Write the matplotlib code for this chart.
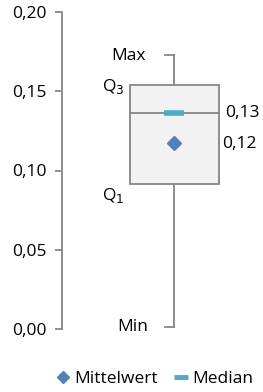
import matplotlib
matplotlib.use("Agg")
import matplotlib.pyplot as plt
from matplotlib.lines import Line2D
from matplotlib.patches import Rectangle

plt.rcParams['font.family'] = ['Open Sans', 'DejaVu Sans']

# box statistics
v_min = 0.0015
q1 = 0.0915
median = 0.136
q3 = 0.154
v_max = 0.173
mean = 0.1176
median_label = "0,13"
mean_label = "0,12"
yticks = [0.0, 0.05, 0.10, 0.15, 0.20]
ytick_labels = ["0,00", "0,05", "0,10", "0,15", "0,20"]

gray = "#868686"
fig = plt.figure(figsize=(2.63, 3.92), dpi=100)
ax = fig.add_axes([62 / 263, 63 / 392, 200 / 263, 317 / 392])

cx, hw = 0.56, 0.2225
ax.add_patch(Rectangle((cx - hw, q1), 2 * hw, q3 - q1, facecolor="#f2f2f2",
                       edgecolor=gray, lw=1.3, zorder=2))
ax.plot([cx, cx], [q3, v_max], color=gray, lw=1.3, zorder=1)
ax.plot([cx, cx], [v_min, q1], color=gray, lw=1.3, zorder=1)
ax.plot([cx - 0.045, cx], [v_max, v_max], color=gray, lw=1.3)
ax.plot([cx - 0.045, cx], [v_min, v_min], color=gray, lw=1.3)
ax.plot([cx - hw, cx + hw], [median, median], color=gray, lw=1.3, zorder=3)
ax.plot([cx], [median], marker="_", ms=15, mew=4, color="#4bacc6", zorder=4)
ax.plot([cx], [mean], marker="D", ms=7, color="#4f81bd", lw=0, zorder=4)

fs = 12.5
ax.text(cx + hw + 0.035, median, median_label, fontsize=fs, va="center", ha="left")
ax.text(cx + hw + 0.02, mean - 0.001, mean_label, fontsize=fs, va="center", ha="left")
ax.text(0.42, v_max - 0.001, "Max", fontsize=fs, va="center", ha="right")
ax.text(0.31, q3 - 0.001, "Q$_3$", fontsize=fs, va="center", ha="right")
ax.text(0.31, q1 - 0.007, "Q$_1$", fontsize=fs, va="center", ha="right")
ax.text(0.43, v_min - 0.0005, "Min", fontsize=fs, va="center", ha="right")

ax.set_xlim(0, 1)
ax.set_ylim(0, 0.2)
ax.set_yticks(yticks)
ax.set_yticklabels(ytick_labels, fontsize=fs)
ax.set_xticks([])
for s in ["top", "right", "bottom"]:
    ax.spines[s].set_visible(False)
ax.spines["left"].set_color(gray)
ax.spines["left"].set_linewidth(1.3)
ax.tick_params(axis="y", color=gray, length=5, width=1.3, pad=6)
ax.patch.set_visible(False)

handles = [Line2D([], [], marker="D", color="#4f81bd", lw=0, ms=6),
           Line2D([], [], marker="_", color="#4bacc6", lw=0, ms=10, mew=3.5)]
fig.legend(handles, ["Mittelwert", "Median"], loc="center", bbox_to_anchor=(0.59, 13 / 392),
           ncol=2, frameon=False, fontsize=fs, handlelength=0.7, handletextpad=0.3,
           columnspacing=1.0)

fig.savefig("out.png", dpi=100)
